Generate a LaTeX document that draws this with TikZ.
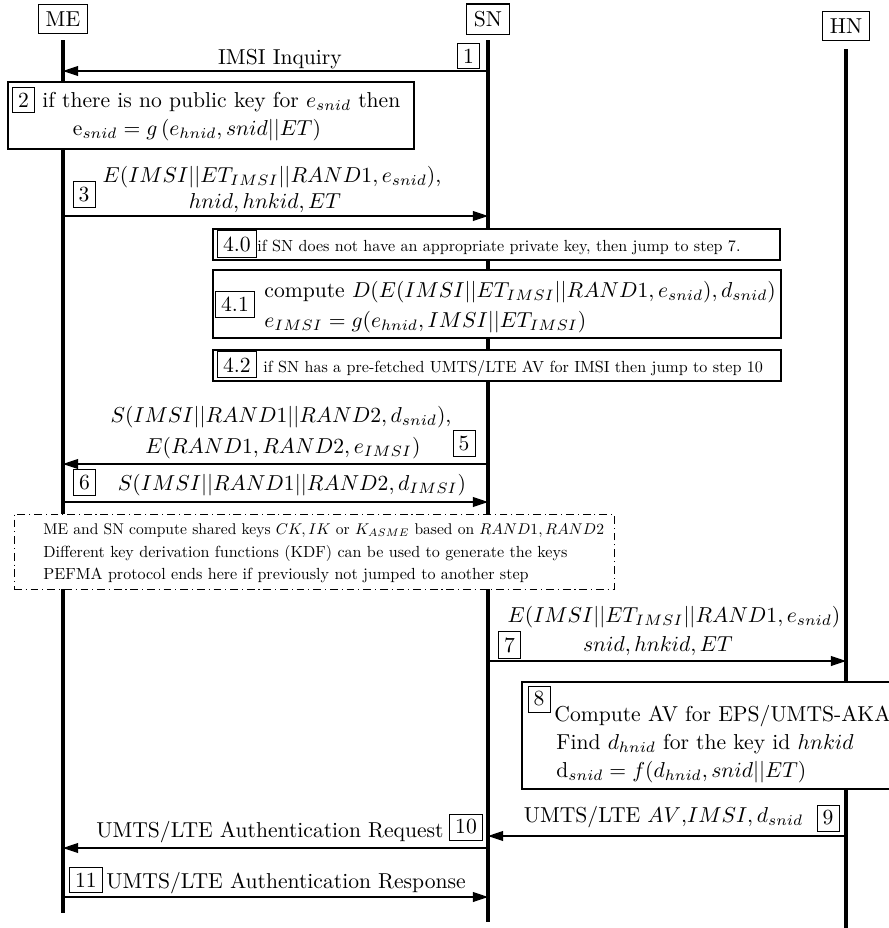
\documentclass[tikz,border=0pt]{standalone}
\usepackage{graphicx}
\usetikzlibrary{arrows.meta,fit}
\newcommand{\smalltxt}[2][0.745]{\scalebox{#1}{#2}}
\begin{document}
\begin{tikzpicture}[x=0.463pt,y=-0.463pt,
  actor/.style={draw, line width=0.5pt, inner sep=3.33pt, fill=white},
  lifeline/.style={line width=1.4pt},
  msg/.style={line width=0.5pt, -{Triangle[length=7pt,width=4.6pt]}},
  stepbox/.style={draw, line width=0.4pt, inner sep=2.6pt},
  opbox/.style={draw, line width=0.5pt, fill=white, inner sep=0pt},
  notebox/.style={draw, line width=0.45pt, fill=white, inner sep=0pt, dash pattern=on 3.6pt off 1.8pt on 0.5pt off 1.8pt},
  lbl/.style={inner sep=0pt, anchor=base},
  lblw/.style={inner sep=0pt, anchor=base west},
]
\useasboundingbox (0,0) rectangle (889,928);

% participants
\node[actor] (ME) at (63,19) {ME};
\node[actor] (SN) at (488,19) {SN};
\node[actor] (HN) at (846,26) {HN};

% lifeline ends
\coordinate (MEtop) at (63,40);
\coordinate (MEbot) at (63,913);
\coordinate (SNtop) at (488,40);
\coordinate (SNbot) at (488,922);
\coordinate (HNtop) at (846,49);
\coordinate (HNbot) at (846,940);
\draw[lifeline] (MEtop) -- (MEbot);
\draw[lifeline] (SNtop) -- (SNbot);
\draw[lifeline] (HNtop) -- (HNbot);

% message 1
\coordinate (m1a) at (488,71);
\coordinate (m1b) at (63,71);
\draw[msg] (m1a) -- (m1b);
\node[lbl] (t1) at (280,64) {IMSI Inquiry};
\node[stepbox] (n1) at (468.5,56) {1};

% box 2
\coordinate (b2nw) at (8,82);
\coordinate (b2se) at (414,149);
\node[opbox, fit=(b2nw)(b2se)] (b2) {};
\node[stepbox, anchor=base west] (n2) at (12,107) {2};
\node[lblw] (t2a) at (42,107) {if there is no public key for $e_{snid}$ then};
\node[lbl] (t2b) at (197,135) {e$_{snid}=g\,(e_{hnid}, snid||ET)$};

% message 3
\coordinate (m3a) at (63,216);
\coordinate (m3b) at (488,216);
\draw[msg] (m3a) -- (m3b);
\node[lbl] (t3a) at (272,182) {$E(IMSI||ET_{IMSI}||RAND1, e_{snid})$,};
\node[lbl] (t3b) at (265,208) {$hnid, hnkid, ET$};
\node[stepbox] (n3) at (84,194.5) {3};

% box 4.0
\coordinate (b40nw) at (213,229);
\coordinate (b40se) at (780,260);
\node[opbox, fit=(b40nw)(b40se)] (b40) {};
\node[stepbox, anchor=base west] (n40) at (217,251) {4.0};
\node[lblw] (t40) at (257,251) {\smalltxt{if SN does not have an appropriate private key, then jump to step 7.}};

% box 4.1
\coordinate (b41nw) at (213,270);
\coordinate (b41se) at (781,338);
\node[opbox, fit=(b41nw)(b41se)] (b41) {};
\node[stepbox] (n41) at (235,304) {4.1};
\node[lblw] (t41a) at (264,297) {compute $D(E(IMSI||ET_{IMSI}||RAND1, e_{snid}), d_{snid})$};
\node[lblw] (t41b) at (264,327) {$e_{IMSI} = g(e_{hnid}, IMSI||ET_{IMSI})$};

% box 4.2
\coordinate (b42nw) at (213,350);
\coordinate (b42se) at (781,381);
\node[opbox, fit=(b42nw)(b42se)] (b42) {};
\node[stepbox, anchor=base west] (n42) at (217,372) {4.2};
\node[lblw] (t42) at (263,372) {\smalltxt{if SN has a pre-fetched UMTS/LTE AV for IMSI then jump to step 10}};

% message 5
\coordinate (m5a) at (488,464);
\coordinate (m5b) at (63,464);
\draw[msg] (m5a) -- (m5b);
\node[lbl] (t5a) at (281,422) {$S(IMSI||RAND1||RAND2, d_{snid})$,};
\node[lbl] (t5b) at (283,453) {$E(RAND1, RAND2, e_{IMSI})$};
\node[stepbox] (n5) at (464,443.5) {5};

% message 6
\coordinate (m6a) at (63,502);
\coordinate (m6b) at (488,502);
\draw[msg] (m6a) -- (m6b);
\node[lbl] (t6) at (292,490) {$S(IMSI||RAND1||RAND2, d_{IMSI})$};
\node[stepbox] (n6) at (84.5,482.5) {6};

% note box
\coordinate (nbnw) at (14,514);
\coordinate (nbse) at (614,589);
\node[notebox, fit=(nbnw)(nbse)] (nb) {};
\node[lblw] (tn1) at (43,534) {\smalltxt[0.72]{ME and SN compute shared keys $CK, IK$ or $K_{ASME}$ based on $RAND1, RAND2$}};
\node[lblw] (tn2) at (43,557) {\smalltxt{Different key derivation functions (KDF) can be used to generate the keys}};
\node[lblw] (tn3) at (43,579) {\smalltxt{PEFMA protocol ends here if previously not jumped to another step}};

% message 7
\coordinate (m7a) at (488,661);
\coordinate (m7b) at (846,661);
\draw[msg] (m7a) -- (m7b);
\node[lbl] (t7a) at (674,622) {$E(IMSI||ET_{IMSI}||RAND1, e_{snid})$};
\node[lbl] (t7b) at (658,651) {$snid, hnkid, ET$};
\node[stepbox] (n7) at (509.5,645) {7};

% box 8
\coordinate (b8nw) at (522,682);
\coordinate (b8se) at (920,789);
\node[opbox, fit=(b8nw)(b8se)] (b8) {};
\node[stepbox] (n8) at (539,699) {8};
\node[lblw] (t8a) at (554,721) {Compute AV for EPS/UMTS-AKA};
\node[lblw] (t8b) at (556,749) {Find $d_{hnid}$ for the key id $hnkid$};
\node[lblw] (t8c) at (556,777) {d$_{snid} = f(d_{hnid}, snid||ET)$};

% message 9
\coordinate (m9a) at (846,836);
\coordinate (m9b) at (488,836);
\draw[msg] (m9a) -- (m9b);
\node[lbl] (t9) at (663.5,822) {UMTS/LTE $AV$,$IMSI, d_{snid}$};
\node[stepbox] (n9) at (828,818) {9};

% message 10
\coordinate (m10a) at (488,848);
\coordinate (m10b) at (63,848);
\draw[msg] (m10a) -- (m10b);
\node[lbl] (t10) at (270,837) {UMTS/LTE Authentication Request};
\node[stepbox] (n10) at (466,827) {10};

% message 11
\coordinate (m11a) at (63,897);
\coordinate (m11b) at (488,897);
\draw[msg] (m11a) -- (m11b);
\node[stepbox] (n11) at (86,880) {11};
\node[lblw] (t11) at (106,888) {UMTS/LTE Authentication Response};
\end{tikzpicture}
\end{document}
